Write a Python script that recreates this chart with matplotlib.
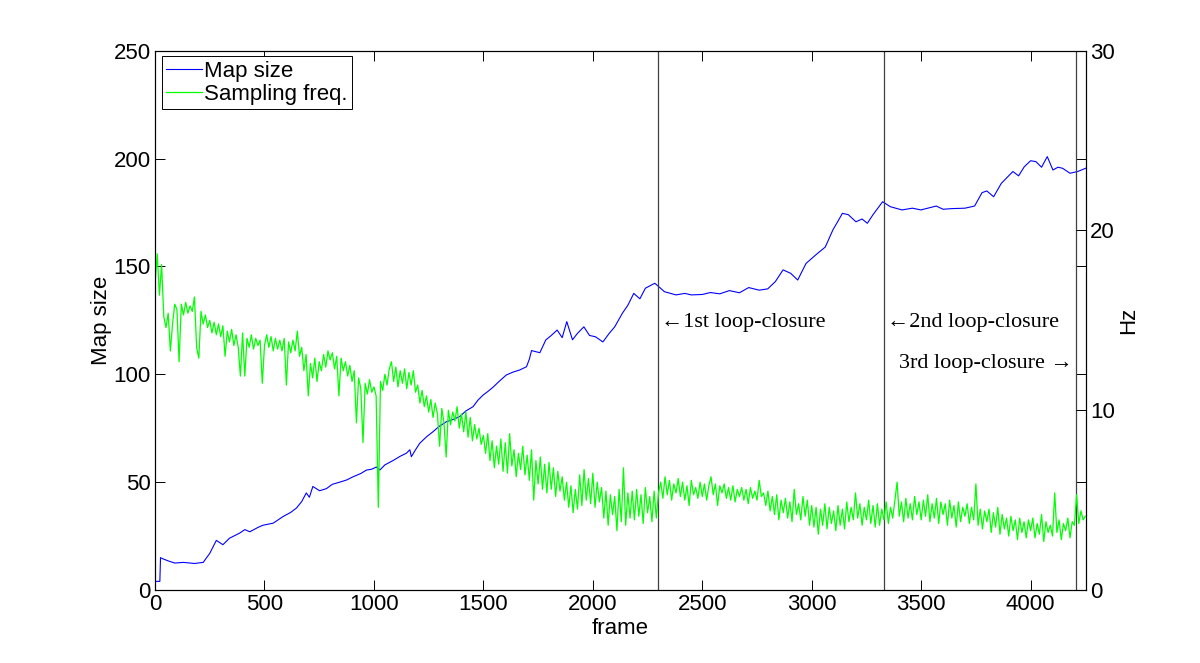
import numpy as np
import matplotlib
matplotlib.use('Agg')
import matplotlib.pyplot as plt

matplotlib.rc('font', family='Liberation Sans', size=16)

# map size (left axis)
map_frame = [0, 22, 25, 35, 60, 90, 130, 180, 220, 250, 280,
             310, 340, 387, 410, 433, 470, 492, 540, 584, 620,
             646, 670, 691, 705, 721, 752, 783, 810, 844, 875,
             905, 940, 966, 990, 1011, 1027, 1050, 1087, 1120, 1148,
             1164, 1171, 1190, 1209, 1240, 1270, 1300, 1331, 1360, 1392,
             1420, 1453, 1475, 1499, 1520, 1544, 1575, 1605, 1635, 1666,
             1697, 1710, 1720, 1758, 1785, 1810, 1837, 1860, 1881, 1907,
             1930, 1959, 1985, 2012, 2046, 2075, 2100, 2135, 2160, 2187,
             2215, 2240, 2283, 2297, 2327, 2380, 2420, 2450, 2500, 2537,
             2580, 2624, 2670, 2712, 2760, 2799, 2834, 2869, 2904, 2936,
             2974, 3026, 3062, 3097, 3120, 3140, 3167, 3202, 3230, 3254,
             3280, 3324, 3359, 3412, 3460, 3499, 3530, 3569, 3600, 3639,
             3700, 3744, 3778, 3800, 3831, 3866, 3890, 3919, 3945, 3971,
             4000, 4024, 4050, 4076, 4102, 4125, 4146, 4180, 4215, 4251]
map_size = [4, 4, 15, 14.5, 13.5, 12.5, 12.8, 12.3, 12.8, 17, 23,
            21, 24, 26.4, 28, 27, 29, 30, 31, 34, 36,
            38, 41, 45, 43, 48, 46, 47, 49, 50, 51,
            52.5, 54, 55.6, 56, 57, 55.6, 58, 60, 62, 63.4,
            65, 61.8, 65, 68, 71, 73.4, 76, 78, 79, 80.4,
            83, 85, 88, 90.4, 92, 94, 97, 99.7, 101, 102,
            103.5, 107, 111, 110, 115.9, 118, 120.5, 117, 124.4, 116,
            119, 122, 118, 117.4, 115, 119, 122, 128.3, 132, 137.5,
            135, 139.9, 142.2, 141, 138.3, 136.8, 137.5, 136.8, 137, 137.9,
            137.3, 138.8, 137.8, 140.2, 139, 139.6, 143, 148.4, 146.8, 143.7,
            151.4, 156, 159, 167, 171, 174.6, 174, 170.7, 172, 170,
            174, 180, 177.7, 176.2, 177, 176.2, 177, 178, 176.5, 176.8,
            177, 178, 184.2, 185, 182.3, 188.5, 191, 194, 192, 196.2,
            199, 198.6, 196, 200.9, 194.7, 196, 195.5, 193.2, 194, 195.5]

# sampling frequency in Hz (right axis), one reading every 10 frames
freq_hz = [17.0, 18.7, 16.4, 18.1, 15.2, 14.6, 15.4, 13.3, 14.8, 15.9,
           15.6, 12.7, 15.9, 15.3, 16.0, 15.4, 15.8, 15.5, 16.3, 13.5,
           12.9, 15.5, 14.8, 15.3, 14.6, 15.0, 14.3, 14.9, 14.2, 14.8,
           14.1, 14.7, 13.0, 14.4, 13.8, 14.5, 13.6, 14.2, 13.5, 11.9,
           14.3, 11.9, 14.0, 13.5, 14.2, 13.4, 14.0, 13.6, 13.9, 11.5,
           13.6, 14.2, 13.5, 14.1, 13.3, 14.0, 13.4, 13.9, 13.3, 14.0,
           11.4, 13.8, 13.2, 13.9, 13.3, 14.4, 13.0, 13.5, 12.2, 13.1,
           10.8, 12.6, 11.8, 12.9, 11.6, 12.7, 12.2, 13.1, 12.4, 13.3,
           12.8, 13.2, 12.3, 13.0, 10.8, 12.9, 12.2, 12.7, 11.9, 12.5,
           11.6, 12.2, 9.3, 11.8, 11.2, 8.2, 11.5, 10.9, 11.7, 11.0,
           11.3, 10.8, 4.6, 11.6, 11.1, 12.0, 11.4, 12.3, 12.7, 11.6,
           12.4, 11.3, 12.2, 11.5, 12.3, 11.2, 12.1, 11.4, 12.2, 11.0,
           11.4, 10.4, 11.1, 10.2, 10.8, 9.9, 10.6, 9.6, 10.4, 9.8,
           8.0, 10.1, 9.3, 7.4, 10.0, 9.2, 9.9, 9.4, 10.2, 9.0,
           9.8, 8.8, 9.9, 8.5, 9.6, 8.3, 9.2, 8.4, 9.0, 8.1,
           8.6, 7.6, 8.7, 7.2, 8.3, 6.8, 8.0, 7.0, 8.4, 6.6,
           8.2, 6.5, 8.7, 6.9, 7.8, 6.3, 7.6, 6.7, 8.0, 6.4,
           7.5, 6.1, 7.8, 5.0, 7.2, 5.9, 7.4, 5.6, 7.0, 5.4,
           7.1, 5.6, 6.8, 5.2, 6.6, 5.5, 6.3, 5.0, 6.0, 4.6,
           5.8, 4.3, 5.6, 4.5, 6.4, 4.7, 6.7, 5.0, 6.2, 4.8,
           6.5, 4.6, 6.0, 4.9, 5.7, 4.0, 5.5, 3.6, 5.3, 4.2,
           5.2, 3.3, 5.6, 3.8, 6.8, 3.6, 5.4, 4.0, 5.5, 3.9,
           5.6, 4.1, 5.3, 3.7, 5.7, 4.3, 5.2, 3.8, 5.5, 4.0,
           5.4, 6.0, 5.1, 6.3, 5.3, 6.1, 5.0, 5.9, 5.4, 6.2,
           5.2, 6.0, 5.0, 5.8, 4.7, 6.1, 5.3, 5.7, 5.1, 6.0,
           5.2, 5.9, 5.0, 5.8, 6.3, 5.3, 5.9, 4.7, 5.8, 5.4,
           5.9, 5.1, 5.7, 5.0, 5.8, 4.9, 5.6, 5.2, 5.7, 5.0,
           5.6, 4.8, 5.7, 5.1, 5.5, 5.0, 6.1, 5.2, 5.4, 4.7,
           5.5, 4.4, 5.2, 4.2, 5.3, 3.9, 5.0, 4.3, 5.1, 4.0,
           4.9, 3.8, 5.6, 4.2, 4.8, 3.9, 5.2, 4.1, 5.0, 3.6,
           4.7, 3.5, 4.6, 3.1, 4.5, 3.6, 4.8, 3.4, 4.6, 3.7,
           4.4, 3.3, 4.7, 3.6, 4.5, 3.4, 4.9, 3.8, 4.6, 3.9,
           5.4, 4.0, 4.8, 3.6, 4.6, 3.9, 5.0, 3.7, 4.7, 3.5,
           4.8, 3.6, 4.5, 3.9, 4.9, 3.7, 4.6, 4.0, 5.0, 6.0,
           4.1, 4.9, 3.8, 5.1, 4.0, 4.8, 3.9, 5.2, 4.2, 4.9,
           3.9, 5.0, 4.1, 5.3, 3.8, 4.8, 4.0, 5.1, 3.7, 4.9,
           4.2, 4.8, 3.6, 5.0, 4.0, 4.7, 3.5, 4.9, 3.8, 4.6,
           4.1, 4.8, 3.7, 4.6, 3.9, 5.9, 3.6, 4.5, 3.4, 4.4,
           3.8, 4.5, 3.2, 4.3, 3.5, 4.6, 3.1, 4.2, 3.4, 4.0,
           3.0, 4.1, 3.3, 3.9, 2.8, 4.0, 3.2, 3.8, 2.9, 3.9,
           3.3, 4.0, 2.9, 3.7, 3.1, 4.2, 2.7, 3.8, 3.2, 3.6,
           3.0, 5.4, 3.2, 3.9, 2.8, 3.7, 3.3, 4.0, 2.9, 3.8,
           3.6, 5.3, 3.7, 4.4, 3.9, 4.1]
freq_frame = np.arange(len(freq_hz)) * 10

# loop-closure frames
closures = [2297, 3330, 4207]

fig = plt.figure(figsize=(12, 6.63), dpi=100)
ax = fig.add_axes([0.1292, 0.1101, 0.7758, 0.8134])
ax2 = ax.twinx()

l1, = ax.plot(map_frame, map_size, color='#0000ff', linewidth=0.8, label='Map size')
l2, = ax2.plot(freq_frame, freq_hz, color='#00ff00', linewidth=0.9, label='Sampling freq.')

for c in closures:
    ax.axvline(c, color='#404040', linewidth=0.9)

ax.set_xlim(0, 4253)
ax.set_ylim(0, 250)
ax2.set_ylim(0, 30)
ax.set_xticks(np.arange(0, 4001, 500))
ax.set_yticks(np.arange(0, 251, 50))
ax2.set_yticks([0, 10, 20, 30])

ax.tick_params(direction='in', length=7, width=0.7, top=True, right=True, labelsize=16, pad=3)
ax2.tick_params(direction='in', length=7, width=0.7, labelsize=16, pad=3)

for sp in ax.spines.values():
    sp.set_linewidth(0.8)
for sp in ax2.spines.values():
    sp.set_linewidth(0.8)

ax.set_xlabel('frame', fontsize=16, labelpad=2)
ax.set_ylabel('Map size', fontsize=16, labelpad=1.5)
ax2.set_ylabel('Hz', fontsize=16, labelpad=2)

serif = ['Liberation Serif', 'DejaVu Serif']
ax.text(2312, 124, '←1st loop-closure', family=serif, fontsize=16, va='center', ha='left')
ax.text(3343, 124, '←2nd loop-closure', family=serif, fontsize=16, va='center', ha='left')
ax.text(4194, 105, '3rd loop-closure →', family=serif, fontsize=16, va='center', ha='right')

leg = ax.legend(handles=[l1, l2], loc='upper left', bbox_to_anchor=(0.0072, 0.99),
                borderaxespad=0, fancybox=False, framealpha=1, edgecolor='black',
                handlelength=1.6, handletextpad=0.1, labelspacing=0.1, borderpad=0.2,
                fontsize=16)
leg.get_frame().set_linewidth(0.7)
# keep legend above the second axes
leg.remove()
ax2.add_artist(leg)

fig.savefig('out.png', dpi=100)
